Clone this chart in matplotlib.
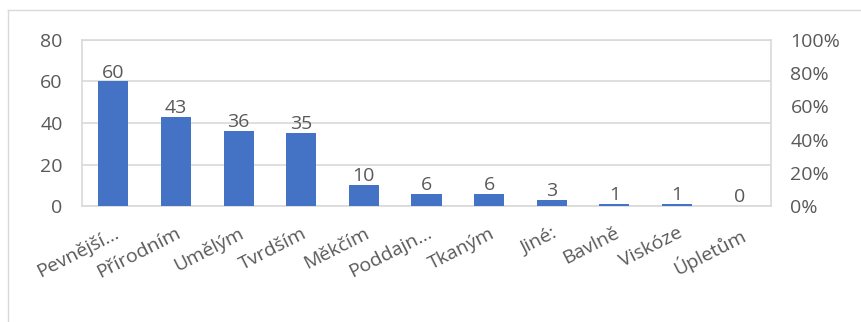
import matplotlib.pyplot as plt
from matplotlib.ticker import FuncFormatter

categories = ["Pevnější…", "Přírodním", "Umělým", "Tvrdším", "Měkčím", "Poddajn…",
              "Tkaným", "Jiné:", "Bavlně", "Viskóze", "Úpletům"]
values = [60, 43, 36, 35, 10, 6, 6, 3, 1, 1, 0]
left_ticks = [0, 20, 40, 60, 80]
right_ticks = [0, 0.2, 0.4, 0.6, 0.8, 1.0]

plt.rcParams['font.family'] = ['Open Sans', 'DejaVu Sans']
txt = '#595959'
grid = '#d9d9d9'
fs = 14

fig = plt.figure(figsize=(8.61, 3.22), dpi=100)
ax = fig.add_axes([82/861, 1-206/322, (771-82)/861, (206-40)/322])
x = list(range(len(categories)))
ax.bar(x, values, width=0.48, color='#4472c4', zorder=3)
ax.set_xlim(-0.5, len(categories)-0.5)
ax.set_ylim(0, 80)
ax.set_yticks(left_ticks)
ax.grid(axis='y', color=grid, linewidth=1.2, zorder=0)
for s in ax.spines.values():
    s.set_color(grid)
    s.set_linewidth(1.2)
ax.tick_params(axis='both', length=0, labelsize=fs, colors=txt)
ax.tick_params(axis='y', pad=14)
ax.set_xticks(x)
ax.set_xticklabels(categories, rotation=27, ha='right', rotation_mode='anchor')
ax.tick_params(axis='x', pad=13)
for xi, v in zip(x, values):
    ax.annotate(str(v), (xi, v), xytext=(0, 0), textcoords='offset points',
                ha='center', va='bottom', fontsize=fs, color=txt)

ax2 = ax.twinx()
ax2.set_ylim(0, 1.0)
ax2.set_yticks(right_ticks)
ax2.yaxis.set_major_formatter(FuncFormatter(lambda v, p: f"{int(round(v*100))}%"))
ax2.tick_params(axis='y', length=0, labelsize=fs, colors=txt, pad=14)
for s in ax2.spines.values():
    s.set_visible(False)

# chart border
fig.add_artist(plt.Line2D([8/861, 1], [1-10/322, 1-10/322], color=grid, linewidth=1))
fig.add_artist(plt.Line2D([8/861, 8/861], [0, 1-10/322], color=grid, linewidth=1))

fig.savefig('out.png', dpi=100)
